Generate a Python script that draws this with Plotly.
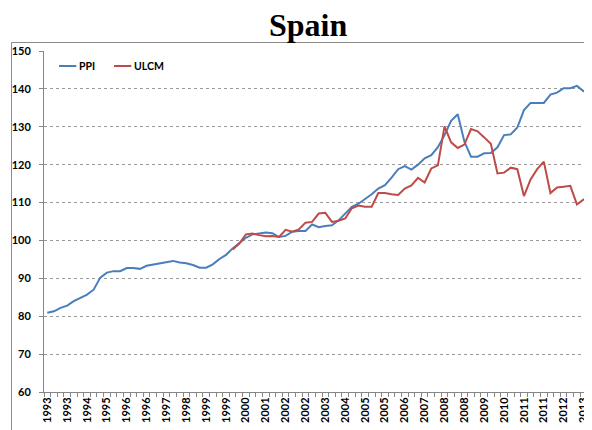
import plotly.graph_objects as go

# quarterly index: 0 = 1993Q1 ... 83 = 2013Q4
tick_labels = ["1993", "1993", "1994", "1995", "1996", "1996", "1997", "1998", "1999", "1999",
               "2000", "2001", "2002", "2002", "2003", "2004", "2005", "2005", "2006", "2007",
               "2008", "2008", "2009", "2010", "2011", "2011", "2012", "2013"]
tick_pos = [3 * i for i in range(len(tick_labels))]

ppi = [80.9, 81.3, 82.2, 82.8, 84.0, 84.9, 85.7, 87.0, 90.2, 91.5,
       91.9, 91.9, 92.7, 92.7, 92.5, 93.3, 93.6, 93.8, 94.3, 94.6,
       94.2, 94.0, 93.5, 92.8, 92.8, 93.7, 95.1, 96.2, 97.9, 99.2,
       100.7, 101.6, 101.9, 102.1, 101.9, 100.9, 101.2, 102.3, 102.5, 102.5,
       104.2, 103.5, 103.8, 104.0, 105.3, 107.1, 108.9, 109.7, 110.9, 112.2,
       113.7, 114.6, 116.6, 118.8, 119.6, 118.7, 120.0, 121.7, 122.5, 124.6,
       127.8, 131.6, 133.3, 126.1, 122.1, 122.1, 123.0, 123.1, 124.6, 127.8,
       128.0, 129.8, 134.4, 136.3, 136.3, 136.3, 138.5, 139.0, 140.2, 140.2,
       140.8, 139.4, 139.4, 139.0]

ulcm_start = 28  # 2000Q1
ulcm = [97.6, 99.2, 101.6, 101.8, 101.4, 101.1, 101.2, 100.9, 102.8, 102.3,
        102.9, 104.7, 104.9, 107.1, 107.3, 104.9, 105.2, 105.8, 108.5, 109.2,
        108.9, 108.9, 112.5, 112.5, 112.2, 112.0, 113.7, 114.5, 116.5, 115.3,
        119.0, 119.8, 130.1, 125.9, 124.4, 125.3, 129.4, 128.8, 127.2, 125.5,
        117.7, 117.9, 119.2, 118.8, 111.7, 116.1, 118.8, 120.8, 112.5, 114.0,
        114.2, 114.4, 109.5, 110.8, 110.6, 110.2]

series_names = ["PPI", "ULCM"]
colors = ["#4A7EBB", "#BE4B48"]

# the page body adds an 8px offset; figure coordinates are window coordinates minus 8
OFF = 8
W, H = 592, 430
L, R, T, B = 44 - OFF, 8, 51 - OFF, 430 - (392 - OFF)
pw, ph = W - L - R, H - T - B

def px(xw):
    return (xw - OFF - L) / pw

def py(yw):
    return (H - B - (yw - OFF)) / ph

fig = go.Figure()
fig.add_trace(go.Scatter(x=list(range(len(ppi))), y=ppi, mode="lines",
                         name=series_names[0], line=dict(color=colors[0], width=2)))
fig.add_trace(go.Scatter(x=list(range(ulcm_start, ulcm_start + len(ulcm))), y=ulcm, mode="lines",
                         name=series_names[1], line=dict(color=colors[1], width=2)))

tickfont = dict(family="Lato, Liberation Sans, sans-serif", size=11, color="#000000", weight=700)

fig.update_layout(
    width=W, height=H, autosize=False,
    margin=dict(l=L, r=R, t=T, b=B, pad=0),
    paper_bgcolor="white", plot_bgcolor="white",
    showlegend=False,
    xaxis=dict(range=[-0.5, 82.28], tickmode="array", tickvals=tick_pos, ticktext=tick_labels,
               tickangle=-90, ticks="", tickfont=tickfont, showgrid=False, zeroline=False,
               automargin=False,
               showline=True, linecolor="#868686", linewidth=1,
               minor=dict(tickmode="linear", tick0=-0.5, dtick=1, ticks="outside",
                          ticklen=4, tickcolor="#868686", showgrid=False)),
    yaxis=dict(range=[60, 150], tickmode="linear", tick0=60, dtick=10, automargin=False,
               ticks="outside", ticklen=4, tickcolor="#868686", tickfont=tickfont,
               showgrid=True, gridcolor="#9a9a9a", griddash="dot", gridwidth=1,
               zeroline=False, showline=True, linecolor="#868686", linewidth=1,
               ticklabelstandoff=6),
)

shapes = [
    dict(type="line", xref="paper", yref="paper", x0=px(11.5), x1=px(11.5), y0=py(440), y1=py(42.5),
         line=dict(color="#8c8c8c", width=1)),
    dict(type="line", xref="paper", yref="paper", x0=px(11.5), x1=px(600), y0=py(42.5), y1=py(42.5),
         line=dict(color="#8c8c8c", width=1)),
]
annotations = [
    dict(text="<b>Spain</b>", xref="paper", yref="paper", x=px(307.5), y=py(25), xanchor="center",
         yanchor="middle", showarrow=False,
         font=dict(family="Liberation Serif, Times New Roman, serif", size=32, color="#000000")),
]
leg = [(59, 76.3, 76.7), (114, 131.3, 131.5)]
for (x0, x1, tx), name, c in zip(leg, series_names, colors):
    shapes.append(dict(type="line", xref="paper", yref="paper", x0=px(x0), x1=px(x1),
                       y0=py(66), y1=py(66), line=dict(color=c, width=2)))
    annotations.append(dict(text=name, xref="paper", yref="paper", x=px(tx), y=py(66),
                            xanchor="left", yanchor="middle", showarrow=False,
                            font=dict(family="Lato, Liberation Sans, sans-serif", size=10.5,
                                      color="#000000", weight=700)))
fig.update_layout(shapes=shapes, annotations=annotations)

fig.write_html("out.html")
